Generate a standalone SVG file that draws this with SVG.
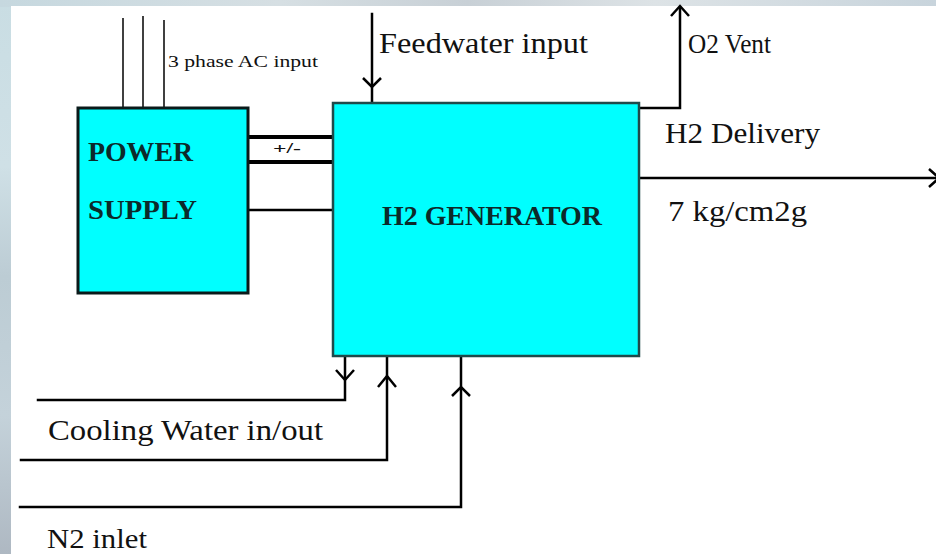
<svg xmlns="http://www.w3.org/2000/svg" width="936" height="554" viewBox="0 0 936 554">
<defs>
<linearGradient id="bgL" x1="0" y1="0" x2="0" y2="1">
<stop offset="0" stop-color="#c9dde3"/>
<stop offset="0.3" stop-color="#cfe0e6"/>
<stop offset="0.5" stop-color="#bcccd4"/>
<stop offset="0.75" stop-color="#c4d2da"/>
<stop offset="1" stop-color="#aeb8c2"/>
</linearGradient>
<linearGradient id="bgT" x1="0" y1="0" x2="1" y2="0">
<stop offset="0" stop-color="#c6d8df"/>
<stop offset="0.3" stop-color="#d6dfe3"/>
<stop offset="0.5" stop-color="#c8d0d6"/>
<stop offset="0.7" stop-color="#dde3e6"/>
<stop offset="1" stop-color="#c8d4dc"/>
</linearGradient>
</defs>
<style>
.lbl{font-family:"Liberation Serif","Times New Roman",serif;fill:#111;}
.box{font-family:"Liberation Serif","Times New Roman",serif;font-weight:bold;fill:#0c2a2a;}
.ln{stroke:#000;stroke-width:2.5;fill:none;stroke-linecap:square;}
.ah{stroke:#000;stroke-width:2.5;fill:none;stroke-linejoin:miter;}
</style>
<rect x="0" y="0" width="936" height="554" fill="url(#bgL)"/>
<rect x="0" y="0" width="936" height="7" fill="url(#bgT)"/>
<rect x="11" y="6" width="925" height="548" fill="#ffffff"/>

<g id="connectors">
<line x1="123" y1="18" x2="123" y2="108" stroke="#000" stroke-width="1.5"/>
<line x1="143" y1="16" x2="143" y2="108" stroke="#000" stroke-width="1.5"/>
<line x1="164" y1="20" x2="164" y2="108" stroke="#000" stroke-width="1.5"/>
<line x1="248" y1="137" x2="333" y2="137" stroke="#000" stroke-width="4"/>
<line x1="248" y1="162" x2="333" y2="162" stroke="#000" stroke-width="4"/>
<line x1="248" y1="210" x2="333" y2="210" stroke="#000" stroke-width="2.5"/>
<line class="ln" x1="372" y1="14" x2="372" y2="102"/>
<polyline class="ah" points="363,78 372,87 381,78"/>
<polyline class="ln" points="640,108 680,108 680,8"/>
<polyline class="ah" points="671,16 680,6 689,16"/>
<line class="ln" x1="640" y1="178" x2="936" y2="178"/>
<polyline class="ah" points="929,169 939,178 929,187"/>
<polyline class="ln" points="345,357 345,400 38,400"/>
<polyline class="ah" points="336,370 345,380 354,370"/>
<polyline class="ln" points="21,460 387,460 387,357"/>
<polyline class="ah" points="378,387 387,376 396,387"/>
<polyline class="ln" points="20,507 461,507 461,357"/>
<polyline class="ah" points="452,396 461,387 470,396"/>
</g>

<text class="lbl" x="273" y="153" font-size="14" font-weight="bold" textLength="28" lengthAdjust="spacingAndGlyphs">+/-</text>
<text class="lbl" x="168" y="67" font-size="17" textLength="150" lengthAdjust="spacingAndGlyphs">3 phase AC input</text>
<text class="lbl" x="379" y="53" font-size="29" textLength="209" lengthAdjust="spacingAndGlyphs">Feedwater input</text>
<text class="lbl" x="688" y="53" font-size="27" textLength="83" lengthAdjust="spacingAndGlyphs">O2 Vent</text>
<text class="lbl" x="665" y="143" font-size="29" textLength="155" lengthAdjust="spacingAndGlyphs">H2 Delivery</text>
<text class="lbl" x="668" y="221" font-size="29" textLength="139" lengthAdjust="spacingAndGlyphs">7 kg/cm2g</text>
<text class="lbl" x="48" y="440" font-size="30" textLength="275" lengthAdjust="spacingAndGlyphs">Cooling Water in/out</text>
<text class="lbl" x="47" y="548" font-size="28" textLength="100" lengthAdjust="spacingAndGlyphs">N2 inlet</text>

<g id="power-supply">
<rect x="78" y="108" width="170" height="185" fill="#00ffff" stroke="#0a1a1a" stroke-width="3"/>
<text class="box" x="88" y="161" font-size="27" textLength="105" lengthAdjust="spacingAndGlyphs">POWER</text>
<text class="box" x="88" y="219" font-size="27" textLength="109" lengthAdjust="spacingAndGlyphs">SUPPLY</text>
</g>

<g id="h2-generator">
<rect x="333" y="103" width="306" height="253" fill="#00ffff" stroke="#1f4a4a" stroke-width="2.5"/>
<text class="box" x="382" y="225" font-size="27" textLength="220" lengthAdjust="spacingAndGlyphs">H2 GENERATOR</text>
</g>
</svg>
